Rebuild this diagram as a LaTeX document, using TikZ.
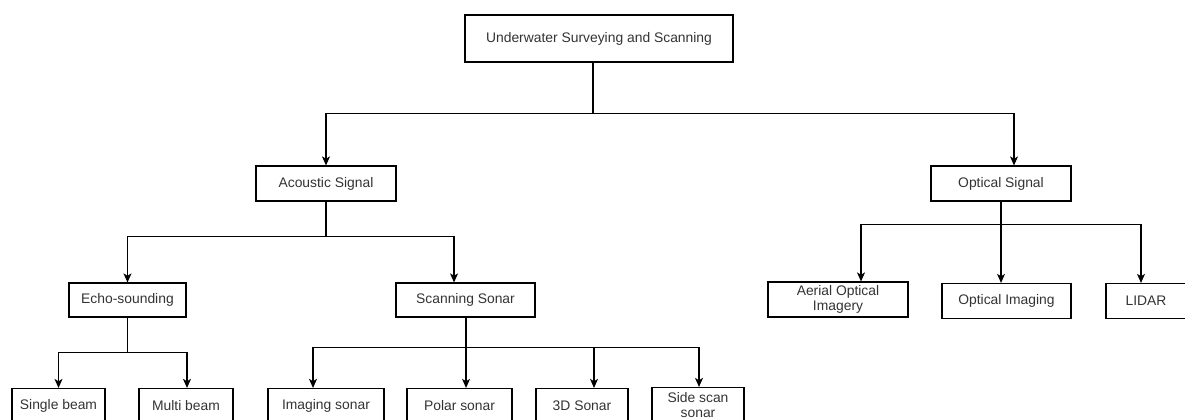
\documentclass[tikz,border=0pt]{standalone}
\usepackage{fontspec}
\setmainfont{Liberation Sans}
\usetikzlibrary{arrows.meta}
\definecolor{txt}{HTML}{333333}
\tikzset{
  box/.style={draw=black, line width=0.85pt, rectangle, inner sep=0pt, align=center,
    text=txt, font=\fontsize{10.4}{11.7}\selectfont},
  conn/.style={draw=black, line width=0.85pt},
  arr/.style={conn, -{Stealth[length=6.8pt,width=6pt,inset=1.8pt]}}
}
\begin{document}
\begin{tikzpicture}[x=0.75pt,y=-0.75pt]
\useasboundingbox (0,0) rectangle (1185,419);
\clip (0,0) rectangle (1185,419);
% nodes
\node[box, minimum width=201pt, minimum height=35.25pt] (top) at (599,38.5) {Underwater Surveying and Scanning};
\node[box, minimum width=105pt, minimum height=26.25pt] (ac) at (326,183.5) {Acoustic Signal};
\node[box, minimum width=105pt, minimum height=26.25pt] (op) at (1001,183.5) {Optical Signal};
\node[box, minimum width=87.75pt, minimum height=25.5pt] (echo) at (127.5,300) {Echo-sounding};
\node[box, minimum width=104.25pt, minimum height=25.5pt] (scan) at (465.5,300) {Scanning Sonar};
\node[box, minimum width=105pt, minimum height=26.25pt] (aer) at (838,299.5) {Aerial Optical\\Imagery};
\node[box, minimum width=96.75pt, minimum height=26.25pt] (oimg) at (1006.5,301) {Optical Imaging};
\node[box, minimum width=60pt, minimum height=26.25pt] (lidar) at (1146,301) {LIDAR};
\node[box, minimum width=69.75pt, minimum height=26.25pt] (single) at (58.5,406) {Single beam};
\node[box, minimum width=70.5pt, minimum height=26.25pt] (multi) at (186,406) {Multi beam};
\node[box, minimum width=87pt, minimum height=26.25pt] (imgs) at (326,406) {Imaging sonar};
\node[box, minimum width=78.75pt, minimum height=26.25pt] (polar) at (459.5,406) {Polar sonar};
\node[box, minimum width=69pt, minimum height=26.25pt] (three) at (582,406) {3D Sonar};
\node[box, minimum width=69pt, minimum height=26.25pt] (side) at (698,405) {Side scan\\sonar};
% connectors
\draw[arr] ([xshift=-4.5pt]top.south) -- ++(0,51) -| (ac.north);
\draw[arr] ([xshift=-4.5pt]top.south) -- ++(0,51) -| ([xshift=9.75pt]op.north);
\draw[arr] (ac.south) -- ++(0,35) -| (echo.north);
\draw[arr] (ac.south) -- ++(0,35) -| ([xshift=-8.6pt]scan.north);
\draw[arr] (op.south) -- ++(0,23) -| ([xshift=17.25pt]aer.north);
\draw[arr] (op.south) -- ++(0,23) -| ([xshift=-4.1pt]oimg.north);
\draw[arr] (op.south) -- ++(0,23) -| ([xshift=-3.75pt]lidar.north);
\draw[arr] (echo.south) -- ++(0,35) -| (single.north);
\draw[arr] (echo.south) -- ++(0,35) -| ([xshift=0.75pt]multi.north);
\draw[arr] ([xshift=0.4pt]scan.south) -- ++(0,30) -| ([xshift=-9.75pt]imgs.north);
\draw[arr] ([xshift=0.4pt]scan.south) -- ++(0,30) -| ([xshift=4.9pt]polar.north);
\draw[arr] ([xshift=0.4pt]scan.south) -- ++(0,30) -| ([xshift=9pt]three.north);
\draw[arr] ([xshift=0.4pt]scan.south) -- ++(0,30) -| ([xshift=0.75pt]side.north);
\end{tikzpicture}
\end{document}
